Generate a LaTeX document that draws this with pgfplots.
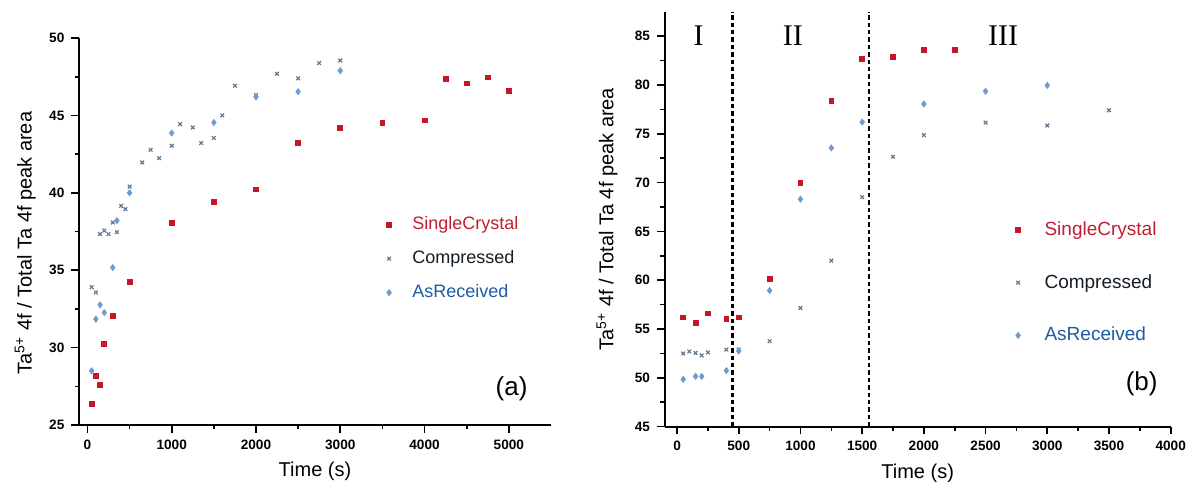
\documentclass[border=0pt]{standalone}
\usepackage{fontspec}
\setmainfont{Liberation Sans}
\newfontfamily\romanfont{Liberation Serif}
\usepackage{pgfplots}
\usepackage{pgfplotstable}
\pgfplotsset{compat=1.18}

\definecolor{scred}{RGB}{200,22,34}
\definecolor{sctext}{RGB}{192,30,48}
\definecolor{cpmark}{RGB}{95,120,145}
\definecolor{cptext}{RGB}{20,28,36}
\definecolor{armark}{RGB}{110,155,210}
\definecolor{artext}{RGB}{30,90,165}

% ---- panel (a) data ----
\pgfplotstableread{
x y
50 26.36
100 28.19
150 27.59
200 30.22
300 32.03
500 34.22
1000 38.04
1500 39.42
2000 40.22
2500 43.21
3000 44.20
3500 44.50
4000 44.68
4250 47.35
4500 47.07
4750 47.46
5000 46.57
}\aSC
\pgfplotstableread{
x y
50 33.9
100 33.56
150 37.33
200 37.56
250 37.33
300 38.08
350 37.46
400 39.16
450 38.95
500 40.4
650 41.96
750 42.78
850 42.24
1000 43.04
1100 44.44
1250 44.22
1350 43.21
1500 43.54
1600 45.0
1750 46.92
2000 46.3
2250 47.69
2500 47.39
2750 48.38
3000 48.55
}\aCP
\pgfplotstableread{
x y
50 28.5
100 31.84
150 32.76
200 32.26
300 35.17
350 38.2
500 40.0
1000 43.86
1500 44.54
2000 46.2
2500 46.53
3000 47.89
}\aAR
% ---- panel (b) data ----
\pgfplotstableread{
x y
50 56.2
150 55.65
250 56.6
400 56.05
500 56.2
750 60.1
1000 69.95
1250 78.35
1500 82.7
1750 82.85
2000 83.55
2250 83.55
}\bSC
\pgfplotstableread{
x y
50 52.5
100 52.7
150 52.55
200 52.3
250 52.6
400 52.9
500 52.9
750 53.75
1000 57.15
1250 62.0
1500 68.5
1750 72.65
2000 74.85
2500 76.15
3000 75.85
3500 77.4
}\bCP
\pgfplotstableread{
x y
50 49.85
150 50.15
200 50.15
400 50.75
500 52.75
750 58.95
1000 68.3
1250 73.55
1500 76.2
2000 78.05
2500 79.35
3000 79.95
}\bAR

\pgfplotsset{
  myaxis/.style={
    scale only axis,
    axis lines*=left,
    tick align=outside,
    major tick length=3.8pt,
    minor tick length=2.2pt,
    axis line style={line width=0.9pt,black},
    every tick/.style={line width=0.8pt,black},
    ticklabel style={font=\fontsize{6.8}{8}\selectfont\bfseries},
    /pgf/number format/assume math mode=true,
    /pgf/number format/1000 sep={},
    minor tick num=1,
    label style={font=\fontsize{8.6}{10}\selectfont\bfseries},
    legend cell align=left,
    clip=false,
  },
  scmark/.style={only marks, mark=square*, mark size=1.2pt, color=scred},
  cpmark/.style={only marks, mark=x, mark size=1.3pt, color=cpmark, mark options={line width=0.6pt}},
  armark/.style={only marks, mark=diamond*, mark size=1.5pt, color=armark},
}

\begin{document}
\begin{tikzpicture}
\useasboundingbox (0,0) rectangle (595pt,241pt);

% ---------------- (a) ----------------
\begin{axis}[myaxis,
  at={(39.5pt,28.5pt)}, anchor=south west,
  width=236pt, height=193.5pt,
  xmin=-100, xmax=5500, ymin=25, ymax=50,
  xtick={0,1000,2000,3000,4000,5000},
  ytick={25,30,35,40,45,50},
  xlabel={Time (s)},
  ylabel={Ta\textsuperscript{5+} 4f / Total Ta 4f peak area},
  every axis x label/.style={at={(axis description cs:0.5,-0.119)}, anchor=center},
  every axis y label/.style={at={(axis description cs:-0.114,0.47)}, anchor=center, rotate=90},
  legend style={draw=none, fill=none, inner sep=0pt, at={(axis description cs:0.651,0.55)}, anchor=north west,
    font=\fontsize{9}{11}\selectfont, row sep=5pt,
    /tikz/every odd column/.append style={column sep=8.5pt}},
]
\addplot[scmark] table {\aSC};
\addplot[cpmark] table {\aCP};
\addplot[armark] table {\aAR};
\legend{\textcolor{sctext}{SingleCrystal},\textcolor{cptext}{Compressed},\textcolor{artext}{AsReceived}}
\node[font=\fontsize{13}{15}\selectfont] at (axis cs:5032,27.37) {(a)};
\end{axis}

% ---------------- (b) ----------------
\begin{axis}[myaxis,
  at={(332.35pt,27.65pt)}, anchor=south west,
  width=253pt, height=207.5pt,
  xmin=-100, xmax=4000, ymin=45, ymax=87.5,
  xtick={0,500,1000,1500,2000,2500,3000,3500,4000},
  ytick={45,50,55,60,65,70,75,80,85},
  xlabel={Time (s)},
  ylabel={Ta\textsuperscript{5+} 4f / Total Ta 4f peak area},
  every axis x label/.style={at={(axis description cs:0.5,-0.112)}, anchor=center},
  every axis y label/.style={at={(axis description cs:-0.114,0.5)}, anchor=center, rotate=90},
  legend style={draw=none, fill=none, inner sep=0pt, at={(axis description cs:0.693,0.505)}, anchor=north west,
    font=\fontsize{9.5}{11}\selectfont, row sep=14pt,
    /tikz/every odd column/.append style={column sep=10pt}},
]
\addplot[scmark] table {\bSC};
\addplot[cpmark] table {\bCP};
\addplot[armark] table {\bAR};
\legend{\textcolor{sctext}{SingleCrystal},\textcolor{cptext}{Compressed},\textcolor{artext}{AsReceived}}
\addplot[black, line width=1.1pt, dash pattern=on 2.2pt off 1.5pt, forget plot] coordinates {(450,45) (450,87.5)};
\addplot[black, line width=1.1pt, dash pattern=on 2.2pt off 1.5pt, forget plot] coordinates {(1555,45) (1555,87.5)};
\node[font=\romanfont\fontsize{15}{17}\selectfont] at (axis cs:174,85) {I};
\node[font=\romanfont\fontsize{15}{17}\selectfont] at (axis cs:939,85) {II};
\node[font=\romanfont\fontsize{15}{17}\selectfont] at (axis cs:2643,85) {III};
\node[font=\fontsize{13}{15}\selectfont] at (axis cs:3765,49.4) {(b)};
\end{axis}
\end{tikzpicture}
\end{document}
